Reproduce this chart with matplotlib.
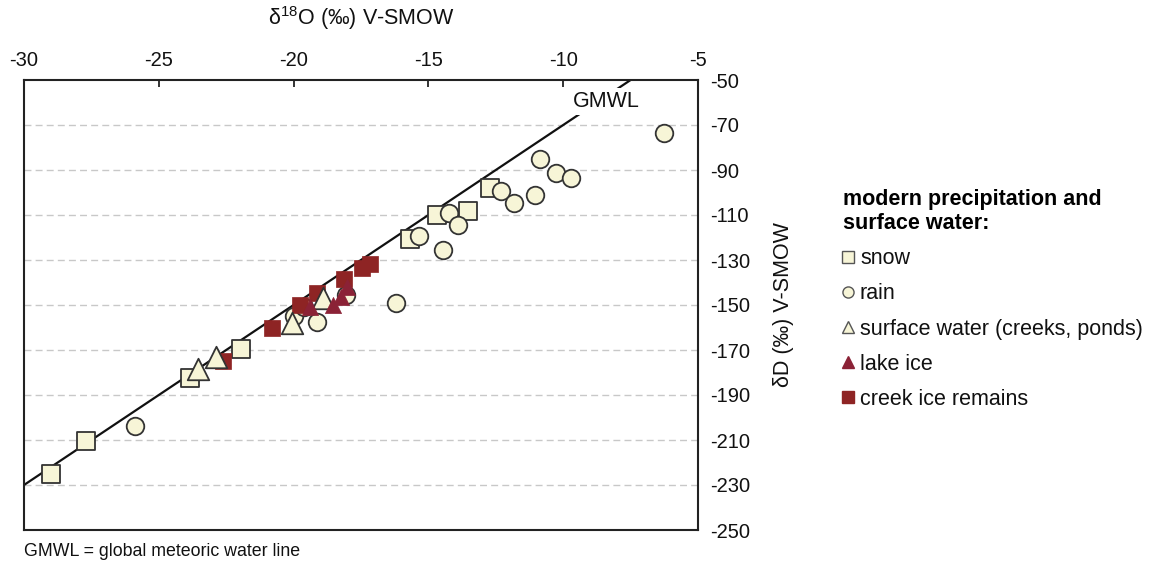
import matplotlib
matplotlib.use("Agg")
import matplotlib.pyplot as plt
import numpy as np
from matplotlib.lines import Line2D

plt.rcParams['font.family'] = ['Liberation Sans', 'DejaVu Sans']
plt.rcParams['mathtext.fontset'] = 'custom'
plt.rcParams['mathtext.rm'] = 'Liberation Sans'

# ---- data ----
snow_x = [-29.0, -27.7, -23.84, -21.96, -15.68, -14.67, -13.54, -12.7]
snow_y = [-225.0, -210.4, -182.5, -169.6, -120.8, -110.0, -108.2, -98.0]

rain_x = [-25.9, -20.0, -19.6, -19.14, -18.07, -16.22, -15.35, -14.45, -14.24,
          -13.91, -12.32, -11.81, -11.05, -10.86, -10.27, -9.72, -6.26]
rain_y = [-203.6, -155.0, -150.9, -157.4, -145.5, -149.3, -119.2, -125.6, -109.3,
          -114.6, -99.5, -104.7, -101.3, -85.1, -91.5, -93.4, -73.4]

surf_x = [-23.56, -22.89, -20.05, -18.92]
surf_y = [-178.6, -173.0, -158.1, -147.0]

lake_x = [-19.4, -18.53, -18.24, -18.03]
lake_y = [-150.7, -150.0, -146.5, -141.8]

creek_x = [-22.63, -20.81, -19.76, -19.14, -18.12, -17.48, -17.17]
creek_y = [-174.9, -160.4, -150.0, -144.8, -138.6, -133.5, -131.8]

gmwl_slope, gmwl_icpt = 8.0, 10.0

x_ticks = [-30, -25, -20, -15, -10, -5]
y_ticks = list(range(-50, -251, -20))

# ---- styling ----
pale = '#f7f5d7'
red = '#8e2424'
lake_red = '#8b2236'
edge = '#333333'

fig = plt.figure(figsize=(11.53, 5.70), dpi=100)
ax = fig.add_axes([24/1153, 1-530/570, (698-24)/1153, (530-80)/570])

ax.set_xlim(-30, -5)
ax.set_ylim(-250, -50)

# gridlines
for yv in y_ticks:
    if -250 < yv < -50:
        ax.axhline(yv, color='#c8c8c8', lw=1.0, ls=(0, (5, 3)), zorder=0)

# GMWL
xl = np.array([-30.0, (-50 - gmwl_icpt) / gmwl_slope])
ax.plot(xl, gmwl_slope * xl + gmwl_icpt, color='#111111', lw=1.6, zorder=2)
ax.text(-8.4, -59.5, 'GMWL', fontsize=15.5, ha='center', va='center', zorder=3,
        color='#111111', bbox=dict(facecolor='white', edgecolor='none', pad=2))

ax.scatter(snow_x, snow_y, marker='s', s=160, facecolor=pale, edgecolor=edge, lw=1.3, zorder=4)
ax.scatter(rain_x, rain_y, marker='o', s=160, facecolor=pale, edgecolor=edge, lw=1.3, zorder=4)
ax.scatter(creek_x, creek_y, marker='s', s=135, facecolor=red, edgecolor=red, lw=0.5, zorder=5)
ax.scatter(surf_x, surf_y, marker='^', s=240, facecolor=pale, edgecolor=edge, lw=1.3, zorder=6)
ax.scatter(lake_x, lake_y, marker='^', s=135, facecolor=lake_red, edgecolor=lake_red, lw=0.5, zorder=6)

# axes / ticks
ax.xaxis.tick_top()
ax.xaxis.set_label_position('top')
ax.yaxis.tick_right()
ax.yaxis.set_label_position('right')
ax.set_xticks(x_ticks)
ax.set_xticklabels([str(v) for v in x_ticks])
ax.set_yticks(y_ticks)
ax.set_yticklabels([str(v) for v in y_ticks])
ax.tick_params(axis='x', direction='in', length=5, width=1.2, labelsize=14.5, pad=7, colors='#111111')
ax.tick_params(axis='y', direction='in', length=0, labelsize=14.5, pad=9, colors='#111111')
for sp in ax.spines.values():
    sp.set_linewidth(1.5)
    sp.set_color('#222222')

ax.set_xlabel(r'δ$^{\mathregular{18}}$O (‰) V-SMOW', fontsize=15.5, labelpad=19, color='#111111')
ax.set_ylabel('δD (‰) V-SMOW', fontsize=15.5, labelpad=16, rotation=90, color='#111111')

fig.text(24/1153, 1-552/570, 'GMWL = global meteoric water line', fontsize=12.8,
         ha='left', va='center', color='#111111')

# legend
handles = [
    Line2D([], [], ls='none', marker='s', ms=8, mfc=pale, mec='#555555', mew=1.0),
    Line2D([], [], ls='none', marker='o', ms=8, mfc=pale, mec='#555555', mew=1.0),
    Line2D([], [], ls='none', marker='^', ms=8, mfc=pale, mec='#555555', mew=1.0),
    Line2D([], [], ls='none', marker='^', ms=8, mfc=lake_red, mec=lake_red),
    Line2D([], [], ls='none', marker='s', ms=8, mfc=red, mec=red),
]
labels = ['snow', 'rain', 'surface water (creeks, ponds)', 'lake ice', 'creek ice remains']
leg = fig.legend(handles, labels, loc='upper left', bbox_to_anchor=(832/1153, 1-178/570),
                 frameon=False, fontsize=15.5, handlelength=0.5, handletextpad=0.3,
                 labelspacing=0.66, borderpad=0,
                 title='modern precipitation and\nsurface water:',
                 title_fontproperties={'weight': 'bold', 'size': 15.5})
leg._legend_box.align = 'left'
for t in leg.get_texts():
    t.set_color('#111111')

fig.savefig('out.png', dpi=100)
